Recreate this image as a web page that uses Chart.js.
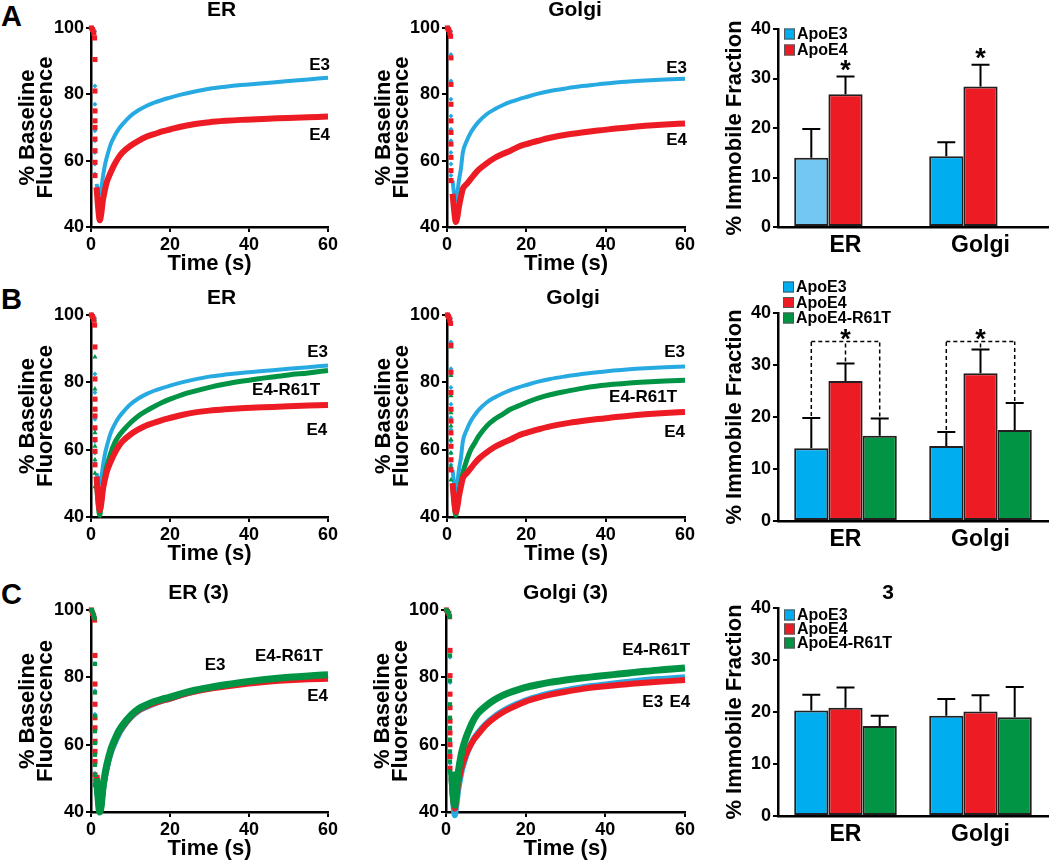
<!DOCTYPE html>
<html>
<head>
<meta charset="utf-8">
<script src="https://cdn.jsdelivr.net/npm/chart.js@4.4.1/dist/chart.umd.min.js"></script>
<style>
  html, body { margin: 0; padding: 0; background: #fff; }
  #fig { position: relative; width: 1050px; height: 863px; overflow: hidden; font-family: 'Liberation Sans', Arial, sans-serif; }
  .panel { position: absolute; }
  .letter { position: absolute; font-weight: bold; font-size: 29px; line-height: 1; color: #000; }
</style>
</head>
<body>
<div id="fig">
  <div class="letter" style="left:1px;top:2px">A</div>
  <div class="letter" style="left:1px;top:285px">B</div>
  <div class="letter" style="left:1px;top:580px">C</div>
</div>
<script>
// ---- FRAP curves (% baseline fluorescence) ----
// pre-bleach and bleach frames
const bleachTime = [0.1, 0.4, 0.7, 0.9, 1, 1, 1, 1, 1, 1, 1, 1, 1];
// recovery after bleach
const recoveryTime = [1.4, 1.8, 2.2, 2.6, 3, 3.5, 4, 5, 6, 7, 8, 10, 12, 14, 16, 18, 20, 23, 26, 30, 34, 38, 42, 46, 50, 55, 60];

const erE3 = [53, 51, 50, 51.5, 55, 58.5, 61, 65, 67.5, 69.5, 71, 73.5, 75.2, 76.5, 77.5, 78.3, 79, 80, 80.8, 81.7, 82.3, 82.8, 83.2, 83.6, 84, 84.5, 85];
const erE4 = [52, 46, 42, 44, 48, 51, 53.5, 56.5, 59, 61, 62.5, 64.5, 66, 67.2, 68, 68.8, 69.4, 70.3, 71, 71.6, 72, 72.3, 72.5, 72.7, 72.9, 73.1, 73.3];
const erR61T = [50, 44, 40.5, 44, 48, 52, 55, 59, 62, 64, 65.5, 68, 70, 71.5, 72.8, 74, 75, 76.3, 77.3, 78.5, 79.5, 80.3, 81, 81.6, 82.2, 82.8, 83.5];
const golgiE3 = [54, 50, 48, 50, 54, 57.5, 62.5, 66, 68.5, 70.3, 71.8, 74, 75.5, 76.7, 77.7, 78.5, 79.2, 80.2, 81, 81.8, 82.5, 83, 83.5, 83.9, 84.2, 84.5, 84.7];
const golgiE4 = [50, 45, 41.5, 43, 46, 49, 51.5, 53, 54.5, 56, 57.3, 59.2, 60.8, 62, 63, 64.2, 65, 66, 66.9, 67.8, 68.5, 69.1, 69.6, 70.1, 70.5, 70.9, 71.2];
const golgiR61T = [50, 44, 40.5, 43, 47, 50, 53, 57, 60, 62, 64, 67, 69, 70.5, 72, 73, 74, 75.3, 76.3, 77.3, 78.2, 78.9, 79.4, 79.8, 80.1, 80.4, 80.6];
const er3E3 = [50, 44, 40, 42, 46, 50, 53, 57.5, 60.5, 63, 65, 68, 70, 71.2, 72.2, 73, 73.6, 74.8, 75.8, 76.8, 77.6, 78.3, 78.9, 79.4, 79.8, 80.2, 80.5];
const er3E4 = [51, 45, 41, 43, 47, 50.5, 53.5, 58, 61, 63.5, 65.3, 68.2, 70.2, 71.4, 72.3, 73.1, 73.7, 74.8, 75.7, 76.6, 77.3, 77.9, 78.4, 78.8, 79.1, 79.4, 79.6];
const er3R61T = [50, 44, 40, 42, 47, 51, 54, 58.5, 61.5, 64, 65.8, 68.6, 70.6, 71.8, 72.8, 73.5, 74.1, 75.2, 76.1, 77, 77.8, 78.5, 79.1, 79.6, 80, 80.4, 80.8];
const golgi3E3 = [50, 43, 39, 42, 46, 49.5, 52.5, 56.5, 59.5, 61.8, 63.5, 66.2, 68.2, 69.8, 71.1, 72.2, 73.2, 74.3, 75.2, 76.2, 77, 77.6, 78.2, 78.7, 79.2, 79.6, 80];
const golgi3E4 = [50, 44, 41, 44, 48, 51, 53.5, 57, 59.5, 61.5, 63, 65.8, 67.8, 69.4, 70.7, 71.8, 72.8, 73.9, 74.8, 75.7, 76.5, 77.1, 77.6, 78, 78.4, 78.8, 79.2];
const golgi3R61T = [52, 45, 42, 46, 51, 55, 58, 62, 65, 67.5, 69.3, 71.5, 73.2, 74.5, 75.5, 76.3, 77, 77.8, 78.5, 79.2, 79.8, 80.3, 80.8, 81.3, 81.8, 82.3, 82.8];

const erE3Bleach = [100, 100, 99.5, 99, 82.5, 77, 75, 72, 69, 66, 62.5, 59, 56];
const erE4Bleach = [100, 99.5, 98.5, 97, 90.5, 81, 75, 72, 70, 66.5, 63, 59.5, 55.5];
const erR61TBleach = [100, 99.5, 99, 98.5, 87.5, 78, 72, 70, 65, 61, 57, 53, 49];
const golgiE3Bleach = [100, 100, 99.5, 99, 92, 84, 78.5, 73.5, 69.5, 66, 62.5, 59, 55.5];
const golgiE4Bleach = [100, 99.5, 98.5, 97.5, 91, 83, 77, 72, 68.5, 65, 61, 57, 54];
const golgiR61TBleach = [100, 99.5, 99, 98, 90.5, 82, 76, 71, 67, 63, 59, 55, 51];
const er3E3Bleach = [100, 99.5, 99, 98, 84, 76, 69, 64.5, 61, 57.5, 54.5, 51.5, 48.5];
const er3E4Bleach = [100, 99, 98, 97, 86.5, 78, 72, 68, 65, 61, 58, 55, 51];
const er3R61TBleach = [100, 99.5, 98.5, 97.5, 84, 75.5, 68.5, 64, 60.5, 57, 54, 51, 48];
const golgi3E3Bleach = [100, 99.5, 99, 98, 86, 78.5, 71.5, 67.5, 64.5, 61, 57.5, 54.5, 51.5];
const golgi3E4Bleach = [100, 99.5, 99, 98, 88, 80.5, 75, 71, 67, 63.5, 60, 56.5, 53];
const golgi3R61TBleach = [100, 99.5, 99, 98, 86.5, 79, 72, 68, 65, 61.5, 58, 55, 52];

// ---- % immobile fraction (mean and SEM) ----
const barCategories = ['ER', 'Golgi'];
const fracE3A = [14.0, 14.3], semE3A = [5.8, 2.8];
const fracE4A = [26.8, 28.4], semE4A = [3.6, 4.4];
const fracE3B = [14.0, 14.4], semE3B = [5.8, 2.7];
const fracE4B = [26.9, 28.4], semE4B = [3.4, 4.6];
const fracR61TB = [16.4, 17.5], semR61TB = [3.3, 5.2];
const fracE3C = [20.3, 19.3], semE3C = [3.0, 3.2];
const fracE4C = [20.8, 20.1], semE4C = [3.9, 3.1];
const fracR61TC = [17.3, 19.0], semR61TC = [2.0, 5.8];

// ---- styles ----
const FONT = "'Liberation Sans', Arial, Helvetica, sans-serif";
const BLUE = '#27aae1', RED = '#ed1c24', GREEN = '#009444';
const BAR_BLUE = '#00aeef', BAR_BLUE_LIGHT = '#73c7f3';

Chart.defaults.font.family = FONT;
Chart.defaults.font.weight = 'bold';
Chart.defaults.color = '#000';
Chart.defaults.animation = false;

function makeCanvas(left, top, width, height) {
  const div = document.createElement('div');
  div.className = 'panel';
  div.style.left = left + 'px';
  div.style.top = top + 'px';
  const c = document.createElement('canvas');
  c.width = width;
  c.height = height;
  c.style.width = width + 'px';
  c.style.height = height + 'px';
  div.appendChild(c);
  document.getElementById('fig').appendChild(div);
  return c;
}

function pts(xs, ys) {
  return xs.map((x, i) => ({ x: x, y: ys[i] }));
}

// titles, curve labels
const panelText = {
  id: 'panelText',
  afterDraw(chart, args, opts) {
    const ctx = chart.ctx, area = chart.chartArea;
    ctx.save();
    ctx.fillStyle = '#000';
    ctx.textBaseline = 'middle';
    if (opts.title) {
      ctx.font = 'bold 21px ' + FONT;
      ctx.textAlign = 'center';
      ctx.fillText(opts.title, (area.left + area.right) / 2 + opts.titleShift, area.top + opts.titleY);
    }
    (opts.labels || []).forEach(l => {
      ctx.font = 'bold 17px ' + FONT;
      ctx.textAlign = l.align || 'right';
      ctx.fillText(l.text, chart.scales.x.getPixelForValue(l.x), chart.scales.y.getPixelForValue(l.y));
    });
    ctx.restore();
  }
};

// error bars, significance brackets, stars, legend
const barExtras = {
  id: 'barExtras',
  afterDatasetsDraw(chart, args, opts) {
    const ctx = chart.ctx, ys = chart.scales.y, area = chart.chartArea;
    ctx.save();
    ctx.strokeStyle = '#000';
    ctx.fillStyle = '#000';
    chart.data.datasets.forEach((ds, i) => {
      if (!ds.errors) return;
      chart.getDatasetMeta(i).data.forEach((bar, j) => {
        if (ds.data[j] == null) return;
        const top = ys.getPixelForValue(ds.data[j] + ds.errors[j]);
        ctx.lineWidth = 2;
        ctx.beginPath();
        ctx.moveTo(bar.x, bar.y);
        ctx.lineTo(bar.x, top);
        ctx.moveTo(bar.x - 9, top);
        ctx.lineTo(bar.x + 9, top);
        ctx.stroke();
      });
    });

    (opts.brackets || []).forEach(b => {
      ctx.lineWidth = 1.5;
      ctx.setLineDash([4, 3]);
      const level = ys.getPixelForValue(b.level);
      const xs = b.sets.map(k => chart.getDatasetMeta(k).data[b.cat].x);
      ctx.beginPath();
      b.sets.forEach((k, n) => {
        const ds = chart.data.datasets[k];
        ctx.moveTo(xs[n], ys.getPixelForValue(ds.data[b.cat] + ds.errors[b.cat]) - 2);
        ctx.lineTo(xs[n], level);
      });
      ctx.moveTo(Math.min(...xs), level);
      ctx.lineTo(Math.max(...xs), level);
      ctx.stroke();
      ctx.setLineDash([]);
    });

    ctx.font = 'bold 27px ' + FONT;
    ctx.textAlign = 'center';
    ctx.textBaseline = 'alphabetic';
    (opts.stars || []).forEach(s => {
      const x = chart.getDatasetMeta(s.set).data[s.cat].x;
      ctx.fillText('*', x, ys.getPixelForValue(s.value) + 15);
    });

    if (opts.legend) {
      const lg = opts.legend;
      ctx.font = 'bold 16px ' + FONT;
      ctx.textAlign = 'left';
      ctx.textBaseline = 'middle';
      let n = 0;
      chart.data.datasets.forEach(ds => {
        if (!ds.label) return;
        const x = area.left + lg.x;
        const y = area.top + lg.y + n * lg.step;
        ctx.fillStyle = ds.legendColor;
        ctx.fillRect(x, y - 5.5, 11, 11);
        ctx.lineWidth = 1;
        ctx.strokeStyle = '#555';
        ctx.strokeRect(x + 0.5, y - 5, 10, 10);
        ctx.fillStyle = '#000';
        ctx.fillText(ds.label, x + 13, y + 1);
        n++;
      });
    }
    ctx.restore();
  }
};

const axisGrid = { display: true, drawOnChartArea: false, drawTicks: true, tickLength: 5, color: '#000', lineWidth: 2 };
const axisBorder = { display: true, color: '#000', width: 2.5 };

function linePanel(geo, series, text) {
  const yW = 81, xH = 50, rightPad = 16;
  const padTop = geo.plotTop - geo.canvasTop;
  const canvas = makeCanvas(geo.axisX - yW, geo.canvasTop, yW + geo.plotW + rightPad, padTop + geo.plotH + xH);

  const datasets = [];
  series.forEach(s => {
    datasets.push({
      label: s.name + ' bleach',
      data: pts(bleachTime, s.bleach),
      showLine: false,
      pointStyle: s.marker,
      pointRadius: s.markerSize,
      backgroundColor: s.color,
      borderColor: s.color,
      borderWidth: 0,
      clip: false
    });
    datasets.push({
      label: s.name,
      data: pts(recoveryTime, s.recovery),
      showLine: true,
      borderColor: s.color,
      borderWidth: s.width,
      pointRadius: 0,
      cubicInterpolationMode: 'monotone',
      fill: false,
      clip: false
    });
  });

  new Chart(canvas, {
    type: 'scatter',
    data: { datasets: datasets },
    options: {
      responsive: false,
      layout: { padding: { top: padTop, right: rightPad, bottom: 0, left: 0 } },
      plugins: {
        legend: { display: false },
        tooltip: { enabled: false },
        panelText: text
      },
      scales: {
        x: {
          type: 'linear', min: 0, max: 60,
          ticks: { stepSize: 20, font: { size: 18, weight: 'bold' }, padding: 2, maxRotation: 0 },
          grid: axisGrid,
          border: axisBorder,
          title: { display: true, text: 'Time (s)', font: { size: 22, weight: 'bold', lineHeight: 1 }, padding: { top: 0, bottom: 2 } },
          afterFit(scale) { scale.height = xH; }
        },
        y: {
          min: 40, max: 100,
          ticks: { stepSize: 20, font: { size: 18, weight: 'bold' }, padding: 2 },
          grid: axisGrid,
          border: axisBorder,
          title: { display: true, text: ['% Baseline', 'Fluorescence'], font: { size: 22, weight: 'bold', lineHeight: 0.82 }, padding: { top: 9, bottom: 0 } },
          afterFit(scale) { scale.width = yW; }
        }
      }
    },
    plugins: [panelText]
  });
}

function barPanel(geo, sets, extras, text) {
  const yW = 70, xH = 45, rightPad = 2;
  const padTop = geo.plotTop - geo.canvasTop;
  const canvas = makeCanvas(geo.axisX - yW, geo.canvasTop, yW + geo.plotW + rightPad, padTop + geo.plotH + xH);

  new Chart(canvas, {
    type: 'bar',
    data: {
      labels: barCategories,
      datasets: sets.map(s => ({
        label: s.name,
        data: s.values,
        errors: s.errors,
        backgroundColor: s.colors,
        legendColor: s.legendColor,
        borderColor: '#231f20',
        borderWidth: 2,
        borderSkipped: false,
        categoryPercentage: 0.76,
        barPercentage: 1.0
      }))
    },
    options: {
      responsive: false,
      layout: { padding: { top: padTop, right: rightPad, bottom: 0, left: 0 } },
      plugins: {
        legend: { display: false },
        tooltip: { enabled: false },
        barExtras: extras,
        panelText: text
      },
      scales: {
        x: {
          offset: true,
          ticks: { font: { size: 23, weight: 'bold' }, padding: 5 },
          grid: { display: false, drawTicks: false },
          border: axisBorder,
          afterFit(scale) { scale.height = xH; }
        },
        y: {
          min: 0, max: 40,
          ticks: { stepSize: 10, font: { size: 18, weight: 'bold' }, padding: 2 },
          grid: axisGrid,
          border: axisBorder,
          title: { display: true, text: '% Immobile Fraction', font: { size: 22, weight: 'bold', lineHeight: 1 }, padding: { top: 16, bottom: 0 } },
          afterFit(scale) { scale.width = yW; }
        }
      }
    },
    plugins: [barExtras, panelText]
  });
}

// ---- series definitions ----
function e3(rec, bl, w) { return { name: 'E3', recovery: rec, bleach: bl, color: BLUE, width: w || 4, marker: 'rectRot', markerSize: 2.5 }; }
function e4(rec, bl) { return { name: 'E4', recovery: rec, bleach: bl, color: RED, width: 6, marker: 'rect', markerSize: 3.6 }; }
function r61t(rec, bl, w, marker) { return { name: 'E4-R61T', recovery: rec, bleach: bl, color: GREEN, width: w || 5, marker: marker || 'triangle', markerSize: 3 }; }

// Row A
linePanel({ axisX: 91, plotTop: 28, plotW: 237, plotH: 199, canvasTop: 0 },
  [e4(erE4, erE4Bleach), e3(erE3, erE3Bleach)],
  { title: 'ER', titleShift: 12, titleY: -18, labels: [{ text: 'E3', x: 60.5, y: 88.8 }, { text: 'E4', x: 60.5, y: 67.7 }] });
linePanel({ axisX: 447, plotTop: 28, plotW: 238, plotH: 199, canvasTop: 0 },
  [e4(golgiE4, golgiE4Bleach), e3(golgiE3, golgiE3Bleach)],
  { title: 'Golgi', titleShift: 9, titleY: -18, labels: [{ text: 'E3', x: 60.5, y: 87.9 }, { text: 'E4', x: 60.5, y: 66.2 }] });
barPanel({ axisX: 778, plotTop: 29, plotW: 270, plotH: 198, canvasTop: 0 },
  [
    { name: 'ApoE3', values: fracE3A, errors: semE3A, colors: [BAR_BLUE_LIGHT, BAR_BLUE], legendColor: BAR_BLUE },
    { name: 'ApoE4', values: fracE4A, errors: semE4A, colors: RED, legendColor: RED },
    { name: '', values: [null, null], colors: GREEN }
  ],
  { legend: { x: 6, y: 5, step: 16 }, stars: [{ set: 1, cat: 0, value: 33 }, { set: 1, cat: 1, value: 35.3 }] },
  {});

// Row B
linePanel({ axisX: 91, plotTop: 315, plotW: 237, plotH: 202, canvasTop: 285 },
  [e4(erE4, erE4Bleach), r61t(erR61T, erR61TBleach), e3(erE3, erE3Bleach)],
  { title: 'ER', titleShift: 12, titleY: -17, labels: [{ text: 'E3', x: 60, y: 89 }, { text: 'E4-R61T', x: 58, y: 77.7 }, { text: 'E4', x: 59.8, y: 65.8 }] });
linePanel({ axisX: 447, plotTop: 315, plotW: 238, plotH: 202, canvasTop: 285 },
  [e4(golgiE4, golgiE4Bleach), r61t(golgiR61T, golgiR61TBleach), e3(golgiE3, golgiE3Bleach)],
  { title: 'Golgi', titleShift: 7, titleY: -17, labels: [{ text: 'E3', x: 60, y: 89 }, { text: 'E4-R61T', x: 58, y: 75.6 }, { text: 'E4', x: 60, y: 65.2 }] });
barPanel({ axisX: 778, plotTop: 313, plotW: 270, plotH: 208, canvasTop: 275 },
  [
    { name: 'ApoE3', values: fracE3B, errors: semE3B, colors: BAR_BLUE, legendColor: BAR_BLUE },
    { name: 'ApoE4', values: fracE4B, errors: semE4B, colors: RED, legendColor: RED },
    { name: 'ApoE4-R61T', values: fracR61TB, errors: semR61TB, colors: GREEN, legendColor: GREEN }
  ],
  {
    legend: { x: 5, y: -26, step: 15.5 },
    brackets: [{ cat: 0, sets: [0, 1, 2], level: 34.5 }, { cat: 1, sets: [0, 1, 2], level: 34.5 }],
    stars: [{ set: 1, cat: 0, value: 36.2 }, { set: 1, cat: 1, value: 36.2 }]
  },
  {});

// Row C
linePanel({ axisX: 91, plotTop: 610, plotW: 237, plotH: 202, canvasTop: 580 },
  [r61t(er3R61T, er3R61TBleach, 7, 'rect'), e4(er3E4, er3E4Bleach), e3(er3E3, er3E3Bleach, 6)],
  { title: 'ER (3)', titleShift: -11, titleY: -17, labels: [{ text: 'E3', x: 31.4, y: 83.7, align: 'center' }, { text: 'E4-R61T', x: 41.5, y: 86.1, align: 'left' }, { text: 'E4', x: 60, y: 74.5 }] });
linePanel({ axisX: 446, plotTop: 610, plotW: 239, plotH: 202, canvasTop: 580 },
  [r61t(golgi3R61T, golgi3R61TBleach, 7, 'rect'), e4(golgi3E4, golgi3E4Bleach), e3(golgi3E3, golgi3E3Bleach, 6)],
  { title: 'Golgi (3)', titleShift: 0, titleY: -17, labels: [{ text: 'E4-R61T', x: 61.3, y: 88.1 }, { text: 'E3', x: 54.5, y: 72.7 }, { text: 'E4', x: 61.3, y: 72.7 }] });
barPanel({ axisX: 778, plotTop: 608, plotW: 270, plotH: 208, canvasTop: 578 },
  [
    { name: 'ApoE3', values: fracE3C, errors: semE3C, colors: BAR_BLUE, legendColor: BAR_BLUE },
    { name: 'ApoE4', values: fracE4C, errors: semE4C, colors: RED, legendColor: RED },
    { name: 'ApoE4-R61T', values: fracR61TC, errors: semR61TC, colors: GREEN, legendColor: GREEN }
  ],
  { legend: { x: 6, y: 7, step: 14 } },
  { title: '3', titleShift: -25, titleY: -15 });
</script>
</body>
</html>
